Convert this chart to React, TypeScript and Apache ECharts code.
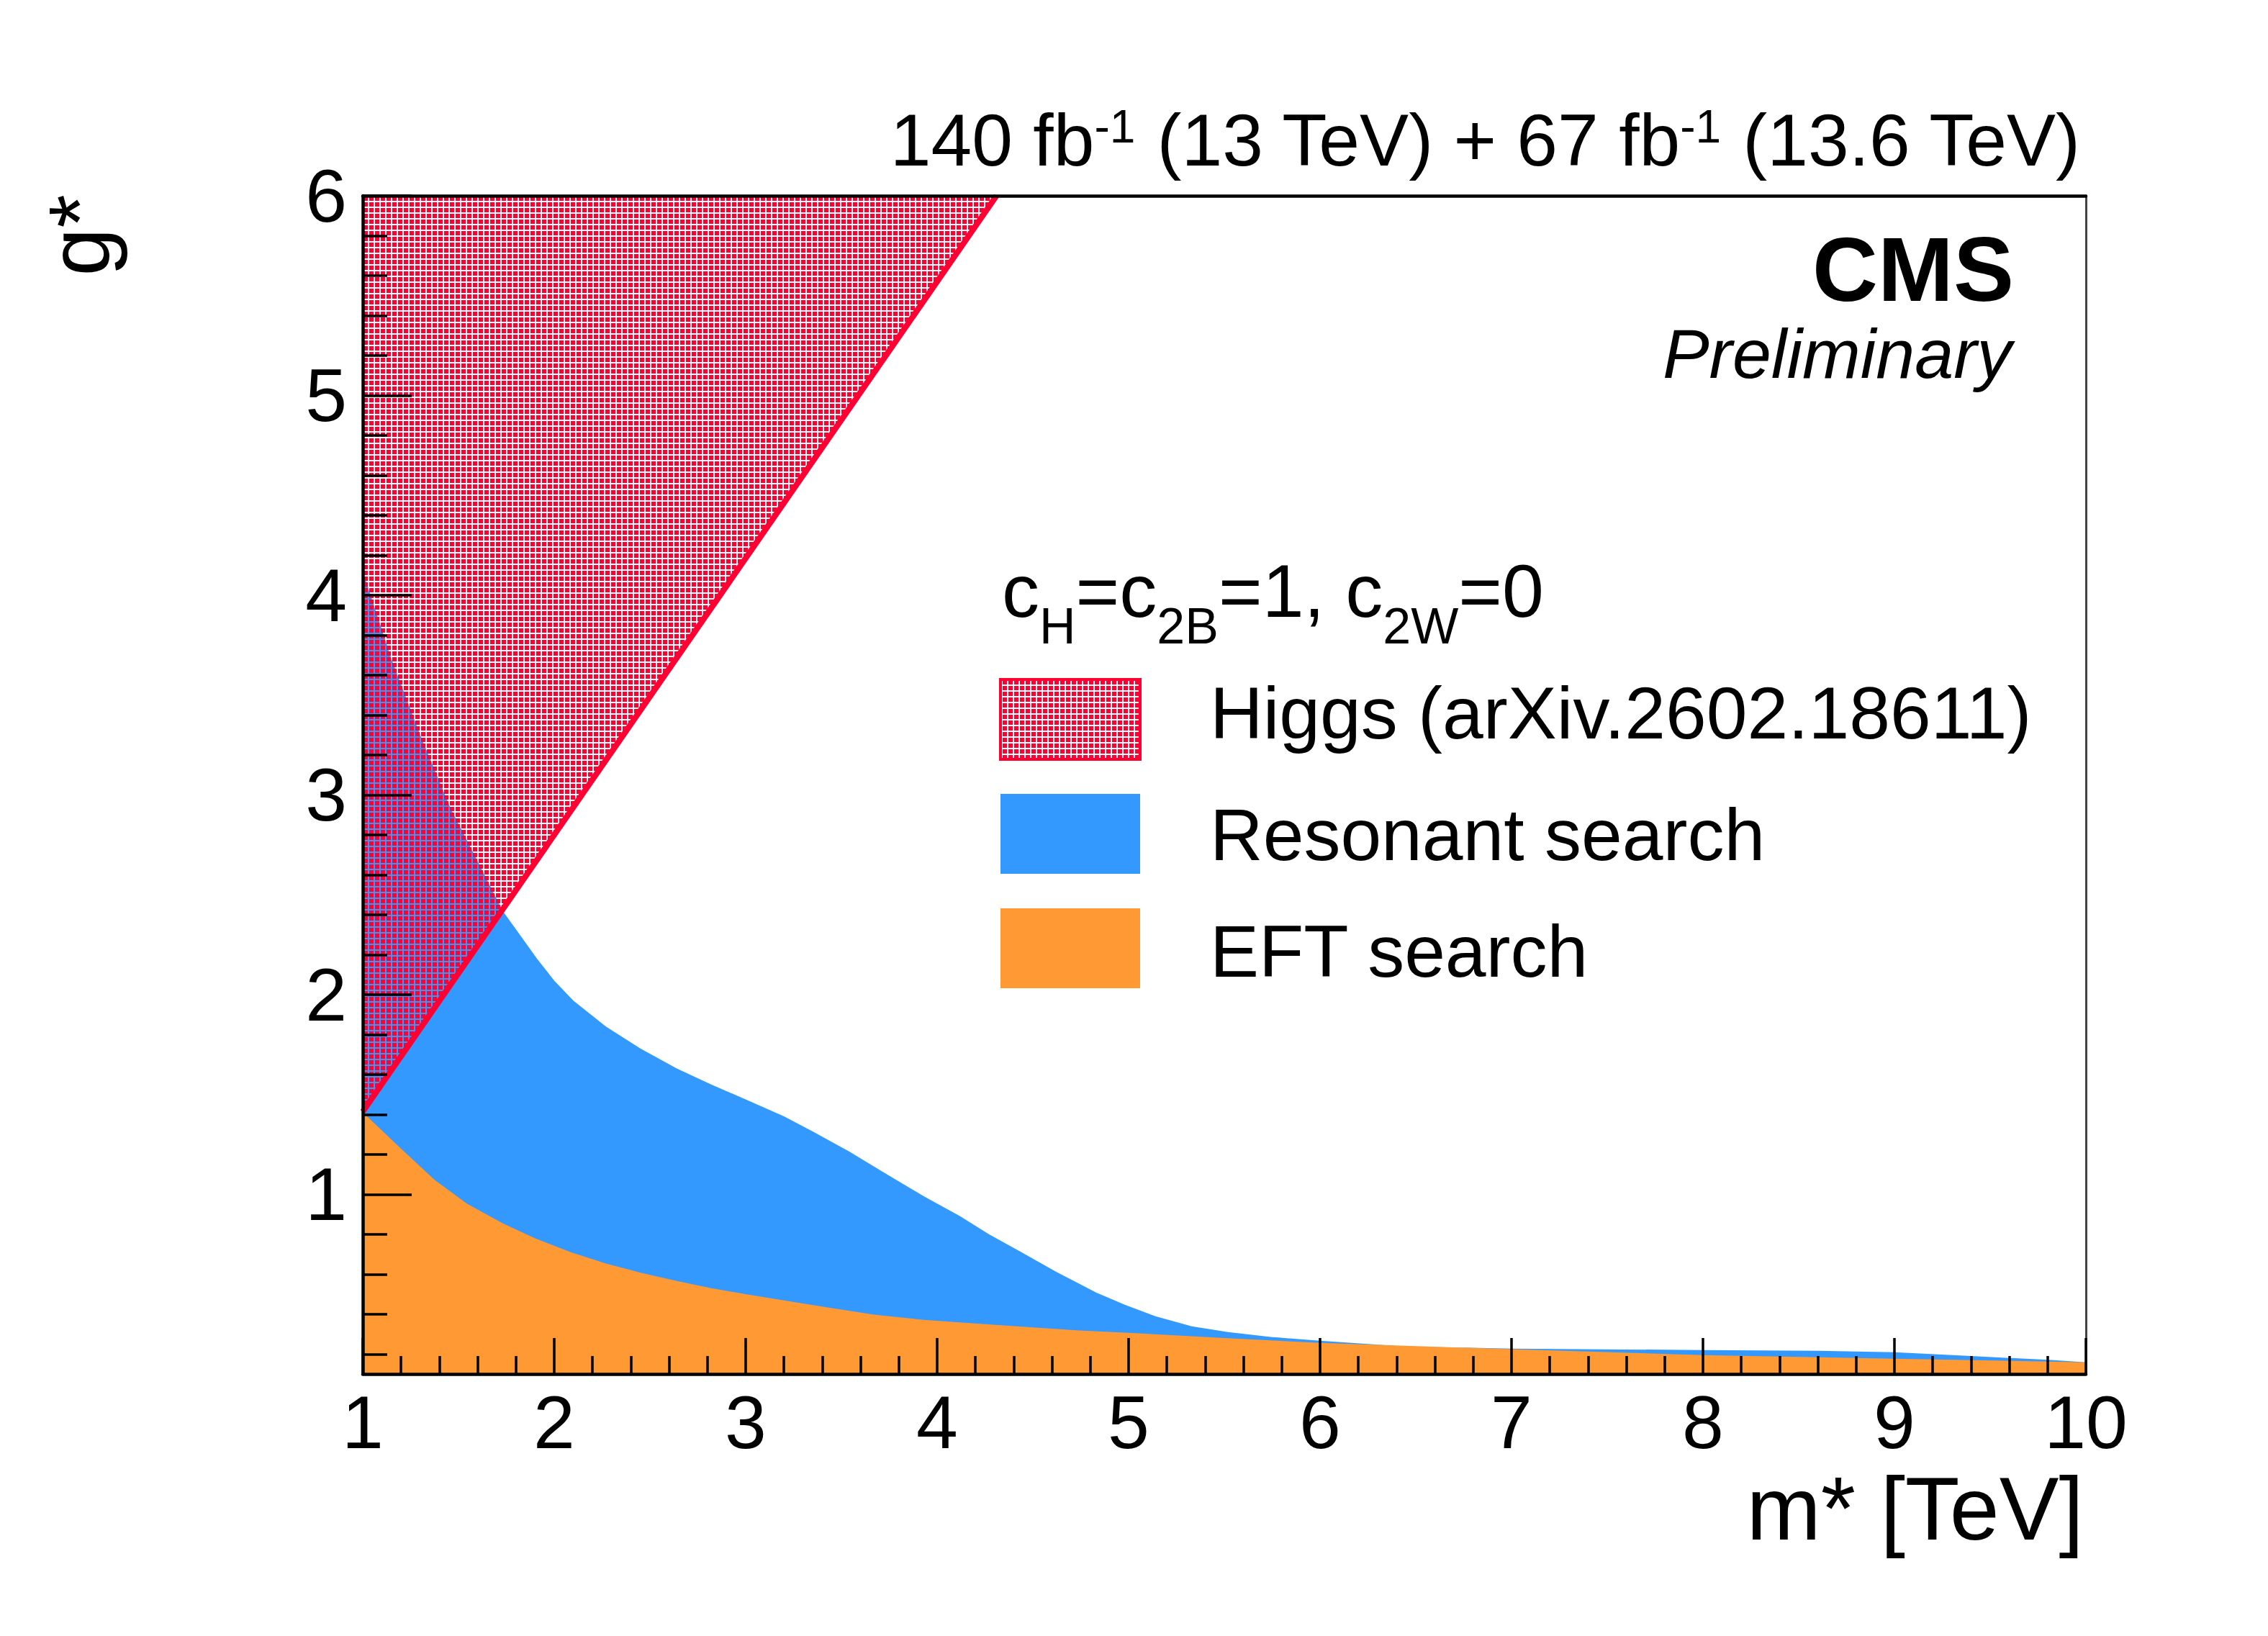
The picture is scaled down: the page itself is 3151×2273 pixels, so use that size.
import React, { useEffect, useRef } from "react";
import * as echarts from "echarts";

const W = 3151;
const H = 2273;
const FONT = "'Liberation Sans', Arial, Helvetica, sans-serif";
const RED = "#ff0033";
const BLUE = "#3399ff";
const ORANGE = "#ff9933";

// Resonant search exclusion boundary (m* [TeV], g*)
const resonantX = [1.0, 1.15, 1.3, 1.46, 1.62, 1.73, 1.82, 1.91, 2.0, 2.1, 2.27, 2.45, 2.64, 2.82, 3.0, 3.2, 3.35, 3.54, 3.72, 3.93, 4.12, 4.27, 4.44, 4.62, 4.83, 4.98, 5.14, 5.33, 5.52, 5.75, 6.0, 6.44, 7.0, 8.0, 8.6, 9.0, 9.4, 9.82, 10.0];
const resonantY = [4.12, 3.68, 3.3, 2.93, 2.63, 2.42, 2.3, 2.18, 2.07, 1.97, 1.84, 1.73, 1.63, 1.55, 1.475, 1.39, 1.315, 1.215, 1.11, 0.99, 0.89, 0.8, 0.71, 0.613, 0.508, 0.447, 0.389, 0.339, 0.31, 0.285, 0.267, 0.238, 0.227, 0.22, 0.216, 0.209, 0.19, 0.17, 0.159];

// EFT search exclusion boundary
const eftX = [1.0, 1.195, 1.376, 1.545, 1.73, 1.9, 2.086, 2.27, 2.455, 2.64, 2.82, 3.01, 3.195, 3.41, 3.67, 3.93, 4.25, 4.74, 5.0, 5.5, 6.0, 7.0, 8.0, 9.0, 10.0];
const eftY = [1.41, 1.233, 1.071, 0.952, 0.855, 0.779, 0.71, 0.653, 0.606, 0.566, 0.53, 0.498, 0.469, 0.436, 0.397, 0.371, 0.35, 0.318, 0.306, 0.28, 0.256, 0.224, 0.195, 0.177, 0.159];

// Higgs couplings boundary (excluded above the line)
const higgsX = [1.0, 4.31];
const higgsY = [1.414, 6.0];

// Axes
const xMin = 1;
const xMax = 10;
const yMin = 0.1;
const yMax = 6;
const yMajorTicks = [1, 2, 3, 4, 5, 6];
const yMinorTicks = [0.2, 0.4, 0.6, 0.8, 1.2, 1.4, 1.6, 1.8, 2.2, 2.4, 2.6, 2.8, 3.2, 3.4, 3.6, 3.8, 4.2, 4.4, 4.6, 4.8, 5.2, 5.4, 5.6, 5.8];

const legendLabels = ["Higgs (arXiv.2602.18611)", "Resonant search", "EFT search"];

function pairs(xs: number[], ys: number[]) {
  return xs.map((x, i) => [x, ys[i]]);
}

export default function App() {
  const ref = useRef<HTMLDivElement>(null);

  useEffect(() => {
    const el = ref.current;
    if (!el) return;
    const chart = echarts.init(el, null, { renderer: "svg" });

    const T = 8;
    const cv = document.createElement("canvas");
    cv.width = T;
    cv.height = T;
    const ctx = cv.getContext("2d");
    if (ctx) {
      ctx.clearRect(0, 0, T, T);
      ctx.fillStyle = RED;
      ctx.fillRect(1, 1, 6, 6);
    }
    const pattern: any = { image: cv.toDataURL(), repeat: "repeat", imageWidth: T, imageHeight: T };

    const lineStyle = { color: "#000", width: 3.5 };
    const axisLineStyle = { color: "#000", width: 4.5 };

    const legendBoxY = [944, 1103, 1262];
    const legendTextY = [1026, 1195, 1357];
    const legendFills: any[] = [pattern, BLUE, ORANGE];

    const graphic: any[] = [
      {
        type: "text",
        x: 2890,
        y: 144,
        style: {
          text: "{m|140 fb}{s|-1}{m| (13 TeV) + 67 fb}{s|-1}{m| (13.6 TeV)}",
          align: "right",
          verticalAlign: "top",
          fill: "#000",
          rich: {
            m: { fontSize: 102, fontFamily: FONT, fill: "#000" },
            s: { fontSize: 64, fontFamily: FONT, fill: "#000", verticalAlign: "top" },
          },
        },
      },
      {
        type: "text",
        x: 2798,
        y: 418 - 0.3465 * 126,
        style: { text: "CMS", align: "right", verticalAlign: "middle", fontSize: 126, fontWeight: "bold", fontFamily: FONT, fill: "#000" },
      },
      {
        type: "text",
        x: 2795,
        y: 525 - 0.3465 * 97,
        style: { text: "Preliminary", align: "right", verticalAlign: "middle", fontSize: 97, fontStyle: "italic", fontFamily: FONT, fill: "#000" },
      },
      {
        type: "text",
        x: 2895,
        y: 2139 - 0.3465 * 124,
        style: { text: "m* [TeV]", align: "right", verticalAlign: "middle", fontSize: 124, fontFamily: FONT, fill: "#000" },
      },
      {
        type: "text",
        x: 152 - 0.3465 * 120,
        y: 270,
        rotation: Math.PI / 2,
        style: { text: "g*", align: "right", verticalAlign: "middle", fontSize: 120, fontFamily: FONT, fill: "#000" },
      },
      {
        type: "text",
        x: 1392,
        y: 769,
        style: {
          text: "{m|c}{s|H}{m|=c}{s|2B}{m|=1, c}{s|2W}{m|=0}",
          align: "left",
          verticalAlign: "top",
          fill: "#000",
          rich: {
            m: { fontSize: 104, fontFamily: FONT, fill: "#000", lineHeight: 136, verticalAlign: "top" },
            s: { fontSize: 70, fontFamily: FONT, fill: "#000", verticalAlign: "bottom" },
          },
        },
      },
    ];

    legendLabels.forEach((label, i) => {
      graphic.push({
        type: "rect",
        shape: { x: 1390, y: legendBoxY[i], width: 194, height: 111 },
        style: i === 0 ? { fill: legendFills[i], stroke: RED, lineWidth: 4 } : { fill: legendFills[i] },
      });
      graphic.push({
        type: "text",
        x: 1681,
        y: legendTextY[i] - 0.3465 * 102,
        style: { text: label, align: "left", verticalAlign: "middle", fontSize: 102, fontFamily: FONT, fill: "#000" },
      });
    });

    const option: any = {
      animation: false,
      backgroundColor: "#fff",
      grid: { left: 504, top: 272, width: 2394, height: 1637, containLabel: false, outerBoundsMode: "none" },
      xAxis: [
        {
          type: "value",
          min: xMin,
          max: xMax,
          interval: 1,
          position: "bottom",
          z: 10,
          axisLine: { show: true, onZero: false, lineStyle: axisLineStyle },
          axisTick: { show: true, inside: true, length: 50, lineStyle },
          minorTick: { show: true, splitNumber: 5, length: 25, lineStyle },
          axisLabel: { show: true, margin: 15, fontSize: 104, fontFamily: FONT, color: "#000" },
          splitLine: { show: false },
          minorSplitLine: { show: false },
        },
        {
          type: "value",
          min: xMin,
          max: xMax,
          position: "top",
          z: 10,
          axisLine: { show: true, onZero: false, lineStyle: axisLineStyle },
          axisTick: { show: false },
          axisLabel: { show: false },
          splitLine: { show: false },
        },
      ],
      yAxis: [
        {
          type: "value",
          min: yMin,
          max: yMax,
          position: "left",
          z: 10,
          axisLine: { show: true, onZero: false, lineStyle: axisLineStyle },
          axisTick: { show: true, inside: true, length: 68, customValues: yMajorTicks, lineStyle },
          axisLabel: { show: true, customValues: yMajorTicks, margin: 22, fontSize: 104, fontFamily: FONT, color: "#000" },
          splitLine: { show: false },
        },
        {
          type: "value",
          min: yMin,
          max: yMax,
          position: "left",
          z: 10,
          axisLine: { show: false },
          axisTick: { show: true, inside: true, length: 34, customValues: yMinorTicks, lineStyle },
          axisLabel: { show: false },
          splitLine: { show: false },
        },
        {
          type: "value",
          min: yMin,
          max: yMax,
          position: "right",
          z: 10,
          axisLine: { show: true, onZero: false, lineStyle: { color: "#444", width: 3 } },
          axisTick: { show: false },
          axisLabel: { show: false },
          splitLine: { show: false },
        },
      ],
      series: [
        {
          type: "line",
          name: legendLabels[1],
          data: pairs(resonantX, resonantY),
          symbol: "none",
          showSymbol: false,
          lineStyle: { width: 0, opacity: 0 },
          areaStyle: { color: BLUE, opacity: 1, origin: "start" },
          z: 1,
          silent: true,
        },
        {
          type: "line",
          name: legendLabels[2],
          data: pairs(eftX, eftY),
          symbol: "none",
          showSymbol: false,
          lineStyle: { width: 0, opacity: 0 },
          areaStyle: { color: ORANGE, opacity: 1, origin: "start" },
          z: 2,
          silent: true,
        },
        {
          type: "line",
          name: legendLabels[0],
          data: pairs(higgsX, higgsY),
          symbol: "none",
          showSymbol: false,
          lineStyle: { width: 8, color: RED },
          areaStyle: { color: pattern, opacity: 1, origin: "end" },
          z: 3,
          silent: true,
        },
      ],
      graphic,
    };

    chart.setOption(option);
    return () => chart.dispose();
  }, []);

  return (
    <div
      ref={ref}
      style={{ position: "absolute", left: 0, top: 0, width: W, height: H, background: "#fff" }}
    />
  );
}
